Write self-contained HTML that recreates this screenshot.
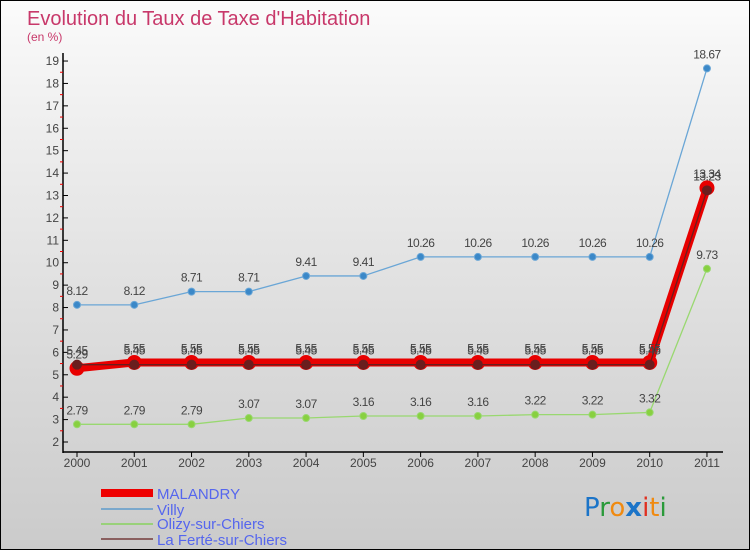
<!DOCTYPE html>
<html><head><meta charset="utf-8"><style>
body{margin:0}
#c{width:748px;height:548px;border:1px solid #000;background:linear-gradient(#fbfbfb,#f0f0f0 20%,#d8d8d8 70%,#cbcbcb);position:relative;font-family:"Liberation Sans",sans-serif;overflow:hidden}
svg{position:absolute;left:0;top:0}
</style></head><body>
<div id="c">
<svg id="s" width="750" height="550">
<text x="26" y="24" font-size="20" fill="#c8386a">Evolution du Taux de Taxe d'Habitation</text>
<text x="26" y="40" font-size="12" fill="#c8386a">(en %)</text>
<g id="axes"></g><g id="series"></g>
<g>
<rect x="100" y="488" width="52" height="8" fill="#e00"/>
<text x="156" y="498" font-size="15" fill="#5566ee">MALANDRY</text>
<line x1="100" y1="508" x2="152" y2="508" stroke="#7aa8cc" stroke-width="2"/>
<text x="156" y="514" font-size="15" fill="#5566ee">Villy</text>
<line x1="100" y1="523" x2="152" y2="523" stroke="#99d17a" stroke-width="2"/>
<text x="156" y="528" font-size="15" fill="#5566ee">Olizy-sur-Chiers</text>
<line x1="100" y1="538" x2="152" y2="538" stroke="#8a6060" stroke-width="2"/>
<text x="156" y="544" font-size="15" fill="#5566ee">La Ferté-sur-Chiers</text>
</g>
<g font-size="26" font-family="'DejaVu Sans',sans-serif">
<text x="583" y="515"><tspan fill="#1b74c8">P</tspan><tspan fill="#2a9a3a">r</tspan><tspan fill="#f08a10">o</tspan><tspan fill="#1b74c8" font-weight="bold">x</tspan><tspan fill="#e03020">i</tspan><tspan fill="#f08a10">t</tspan><tspan fill="#2a9a3a">i</tspan></text>
</g>
</svg>
</div>
<script>
const years=["2000","2001","2002","2003","2004","2005","2006","2007","2008","2009","2010","2011"];
const yTicks=[2,3,4,5,6,7,8,9,10,11,12,13,14,15,16,17,18,19];
const villy=[8.12,8.12,8.71,8.71,9.41,9.41,10.26,10.26,10.26,10.26,10.26,18.67];
const olizy=[2.79,2.79,2.79,3.07,3.07,3.16,3.16,3.16,3.22,3.22,3.32,9.73];
const malandry=[5.29,5.55,5.55,5.55,5.55,5.55,5.55,5.55,5.55,5.55,5.55,13.34];
const laferte=[5.45,5.45,5.45,5.45,5.45,5.45,5.45,5.45,5.45,5.45,5.45,13.23];
const villyLbl=["8.12","8.12","8.71","8.71","9.41","9.41","10.26","10.26","10.26","10.26","10.26","18.67"];
const olizyLbl=["2.79","2.79","2.79","3.07","3.07","3.16","3.16","3.16","3.22","3.22","3.32","9.73"];
const NS="http://www.w3.org/2000/svg";
const X=i=>76+i*57.27, Y=v=>441-(v-2)*22.41;
function mk(t,a,p){const e=document.createElementNS(NS,t);for(const k in a)e.setAttribute(k,a[k]);p.appendChild(e);return e;}
const ax=document.getElementById('axes'), se=document.getElementById('series');
let e=mk('line',{x1:62,y1:52,x2:62,y2:452,stroke:'#000','stroke-width':1.5},ax);


e=mk('line',{x1:62,y1:451,x2:722,y2:451,stroke:'#000','stroke-width':1.5},ax);


yTicks.forEach(v=>{
  mk('line',{x1:62,y1:Y(v),x2:67,y2:Y(v),stroke:'#000'},ax);
  if(v<19) mk('line',{x1:59,y1:Y(v+0.5),x2:62,y2:Y(v+0.5),stroke:'#e00'},ax);
  const t=mk('text',{x:58,y:Y(v)+4,'font-size':12,fill:'#444','text-anchor':'end'},ax);t.textContent=v;
  
  
});
years.forEach((y,i)=>{
  mk('line',{x1:X(i),y1:451,x2:X(i),y2:456,stroke:'#000'},ax);
  const t=mk('text',{x:X(i),y:466,'font-size':12,fill:'#444','text-anchor':'middle'},ax);t.textContent=y;
  
  
});
function series(vals,color,w,r,fill,name,lbls){
  const g=mk('g',{},se);
  
  
  mk('polyline',{points:vals.map((v,i)=>X(i)+','+Y(v)).join(' '),fill:'none',stroke:color,'stroke-width':w,'stroke-linejoin':'round'},g);
  vals.forEach((v,i)=>{
    const c=mk('circle',{cx:X(i),cy:Y(v),r:r,fill:fill,stroke:color,'stroke-width':1},g);
    
    
    const t=mk('text',{x:X(i),y:Y(v)-10,'font-size':12,fill:'#444','text-anchor':'middle','letter-spacing':'-0.5'},g);
    t.textContent=lbls?lbls[i]:v.toFixed(2);
  });
}
series(villy,'#6aa6d6',1.3,3.5,'#3b88c8','series-villy',villyLbl);
series(olizy,'#99d870',1.3,3.5,'#88d040','series-olizy',olizyLbl);
series(malandry,'#e80000',8,7,'#e80000','series-malandry');
series(laferte,'#6a1e1e',1.3,4.5,'#6a1e1e','series-laferte');
</script>
</body></html>
